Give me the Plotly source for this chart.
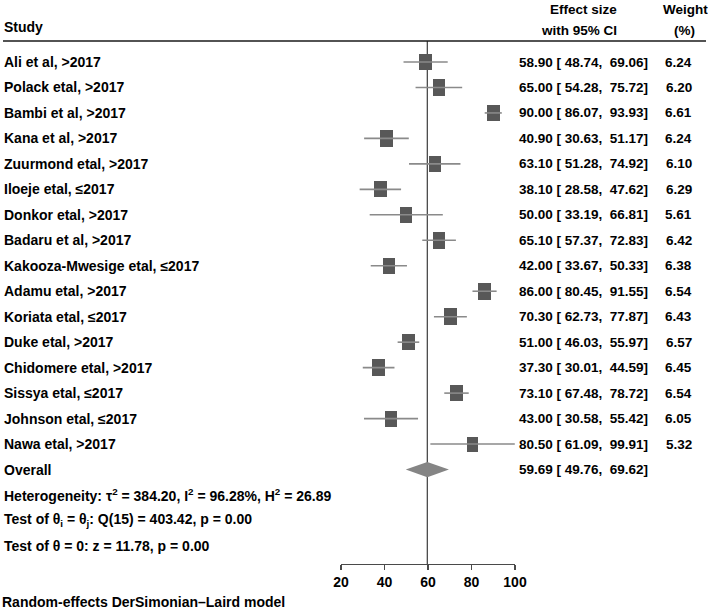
import plotly.graph_objects as go
import math

studies = ["Ali et al, >2017", "Polack etal, >2017", "Bambi et al, >2017", "Kana et al, >2017",
           "Zuurmond etal, >2017", "Iloeje etal, ≤2017", "Donkor etal, >2017", "Badaru et al, >2017",
           "Kakooza-Mwesige etal, ≤2017", "Adamu etal, >2017", "Koriata etal, ≤2017", "Duke etal, >2017",
           "Chidomere etal, >2017", "Sissya etal, ≤2017", "Johnson etal, ≤2017", "Nawa etal, >2017"]
effect = [58.90, 65.00, 90.00, 40.90, 63.10, 38.10, 50.00, 65.10, 42.00, 86.00, 70.30, 51.00, 37.30, 73.10, 43.00, 80.50]
ci_low = [48.74, 54.28, 86.07, 30.63, 51.28, 28.58, 33.19, 57.37, 33.67, 80.45, 62.73, 46.03, 30.01, 67.48, 30.58, 61.09]
ci_high = [69.06, 75.72, 93.93, 51.17, 74.92, 47.62, 66.81, 72.83, 50.33, 91.55, 77.87, 55.97, 44.59, 78.72, 55.42, 99.91]
weights = [6.24, 6.20, 6.61, 6.24, 6.10, 6.29, 5.61, 6.42, 6.38, 6.54, 6.43, 6.57, 6.45, 6.54, 6.05, 5.32]
overall = [59.69, 49.76, 69.62]
tick_vals = [20, 40, 60, 80, 100]
het_text = "Heterogeneity: τ<sup>2</sup> = 384.20, I<sup>2</sup> = 96.28%, H<sup>2</sup> = 26.89"
test1_text = "Test of θ<sub>i</sub> = θ<sub>j</sub>: Q(15) = 403.42, p = 0.00"
test2_text = "Test of θ = 0: z = 11.78, p = 0.00"
footnote = "Random-effects DerSimonian–Laird model"

W, H = 708, 609
FONT = "Liberation Sans Narrow, Arial Narrow, Liberation Sans, Arial, sans-serif"
FS_TXT = 14
FS_NUM = 13.5
ROW0, ROWSTEP = 62.0, 25.47       # pixel centre of first row, spacing
AXIS_PX = 564.0


def rpx(px):
    return (px - ROW0) / ROWSTEP


n = len(studies)
rows = list(range(n))
ov_row = n

fig = go.Figure()

# CI lines
lx, ly = [], []
for r, lo, hi in zip(rows, ci_low, ci_high):
    lx += [lo, hi, None]
    ly += [r, r, None]
fig.add_trace(go.Scatter(x=lx, y=ly, mode="lines", line=dict(color="#8a8a8a", width=1.6),
                         hoverinfo="skip", showlegend=False))

# boxes (area proportional to weight)
wmax = max(weights)
bw = [5.85 * math.sqrt(w / wmax) for w in weights]
bh = [0.655 * math.sqrt(w / wmax) for w in weights]
fig.add_trace(go.Bar(y=rows, x=bw, base=[e - b / 2 for e, b in zip(effect, bw)], width=bh,
                     orientation="h", marker=dict(color="#585858", line=dict(width=0)),
                     showlegend=False, hoverinfo="skip"))

# overall diamond
es, lo, hi = overall
dh = 0.30
fig.add_trace(go.Scatter(x=[lo, es, hi, es, lo], y=[ov_row, ov_row - dh, ov_row, ov_row + dh, ov_row],
                         mode="lines", fill="toself", fillcolor="#858585", line=dict(width=0, color="#858585"),
                         showlegend=False, hoverinfo="skip"))


def fnt(size):
    return dict(family=FONT, size=size, color="black", weight="bold")


ann = []


def add(text, px_x, row, anchor, size=FS_TXT, yref="y"):
    ann.append(dict(text=text, x=px_x / W, xref="paper", y=row, yref=yref, xanchor=anchor,
                    yanchor="middle", showarrow=False, font=fnt(size), borderpad=0))


def ci_text(e, l, h):
    return f"{e:.2f} [{l:6.2f}, {h:6.2f}]".replace(" ", "\u00a0")


for r, s, e, l, h, w in zip(rows, studies, effect, ci_low, ci_high, weights):
    add(s, 3, r, "left")
    add(ci_text(e, l, h), 649, r, "right", FS_NUM)
    add(f"{w:.2f}", 693, r, "right", FS_NUM)

add("Overall", 3, ov_row, "left")
add(ci_text(es, lo, hi), 649, ov_row, "right", FS_NUM)
add(het_text, 3, ov_row + 1, "left")
add(test1_text, 3, ov_row + 2, "left")
add(test2_text, 3, ov_row + 3, "left")
add(footnote, 1, (AXIS_PX - 602) / AXIS_PX, "left", yref="paper")

# headers
add("Study", 3, rpx(27), "left")
add("Effect size", 618, rpx(9), "right", FS_NUM)
add("with 95% CI", 618, rpx(30), "right", FS_NUM)
add("Weight", 685, rpx(9), "center", FS_NUM)
add("(%)", 684, rpx(30), "center", FS_NUM)

shapes = [
    dict(type="line", xref="paper", yref="y", x0=3 / W, x1=706 / W, y0=rpx(41), y1=rpx(41),
         line=dict(color="#1a1a1a", width=1.5)),
    dict(type="line", xref="x", yref="y", x0=es, x1=es, y0=rpx(41), y1=rpx(AXIS_PX),
         line=dict(color="#4a4a4a", width=1.3), layer="below"),
]

fig.update_layout(
    width=W, height=H, margin=dict(l=0, r=0, t=0, b=H - AXIS_PX, pad=0, autoexpand=False),
    paper_bgcolor="white", plot_bgcolor="white", font=fnt(FS_TXT),
    annotations=ann, shapes=shapes, bargap=0,
    xaxis=dict(domain=[341 / W, 515 / W], range=[20, 100], tickvals=tick_vals, ticks="outside",
               ticklen=5, tickwidth=1.2, tickcolor="#4a4a4a", showline=True, linecolor="#4a4a4a",
               linewidth=1.3, showgrid=False, zeroline=False, automargin=False,
               tickfont=fnt(14), fixedrange=True),
    yaxis=dict(range=[rpx(AXIS_PX), rpx(0)], visible=False, showgrid=False, zeroline=False,
               fixedrange=True, automargin=False),
)

fig.write_html("out.html", config={"displayModeBar": False, "staticPlot": True},
               post_script="document.body.style.margin='0';document.body.style.overflow='hidden';")
